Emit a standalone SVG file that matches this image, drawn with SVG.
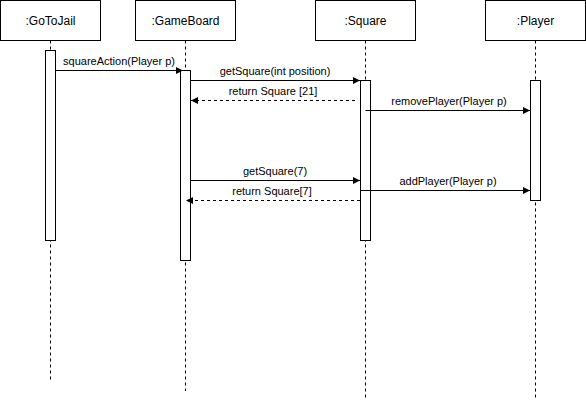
<svg xmlns="http://www.w3.org/2000/svg" width="586" height="401" viewBox="0 0 586 401">
<defs>
<marker id="ah" markerWidth="8" markerHeight="8" refX="7" refY="4" orient="auto" markerUnits="userSpaceOnUse">
<path d="M0,0.5 L7,4 L0,7.5 Z" fill="#000"/>
</marker>
<style>
.box{fill:#fff;stroke:#000;stroke-width:1}
.life{stroke:#000;stroke-width:1;stroke-dasharray:3 3;fill:none}
.act{fill:#fff;stroke:#000;stroke-width:1}
.msg{stroke:#000;stroke-width:1;fill:none;marker-end:url(#ah)}
.ret{stroke:#000;stroke-width:1;fill:none;stroke-dasharray:3 3;marker-end:url(#ah)}
.t{font-family:"Liberation Sans",Arial,sans-serif;font-size:12px;fill:#000;text-anchor:middle}
.l{font-family:"Liberation Sans",Arial,sans-serif;font-size:11px;fill:#000;text-anchor:middle}
</style>
</defs>
<rect width="586" height="401" fill="#fff"/>
<g id="gotojail">
<rect class="box" x="0.5" y="0.5" width="100" height="40"/>
<text class="t" x="50.5" y="24.5">:GoToJail</text>
<line class="life" x1="50.5" y1="40.5" x2="50.5" y2="380"/>
<rect class="act" x="45.5" y="50.5" width="10" height="190"/>
</g>
<g id="gameboard">
<rect class="box" x="135.5" y="0.5" width="100" height="40"/>
<text class="t" x="185.5" y="24.5">:GameBoard</text>
<line class="life" x1="185.5" y1="40.5" x2="185.5" y2="391"/>
<rect class="act" x="180.5" y="70.5" width="10" height="190"/>
</g>
<g id="square">
<rect class="box" x="315.5" y="0.5" width="100" height="40"/>
<text class="t" x="365.5" y="24.5">:Square</text>
<line class="life" x1="365.5" y1="40.5" x2="365.5" y2="398"/>
<rect class="act" x="360.5" y="80.5" width="10" height="160"/>
</g>
<g id="player">
<rect class="box" x="485.5" y="0.5" width="100" height="40"/>
<text class="t" x="535.5" y="24.5">:Player</text>
<line class="life" x1="535.5" y1="40.5" x2="535.5" y2="398"/>
<rect class="act" x="530.5" y="80.5" width="10" height="120"/>
</g>
<g id="connectors">
<line class="msg" x1="55.5" y1="70.5" x2="183" y2="70.5"/>
<text class="l" x="119" y="65">squareAction(Player p)</text>
<line class="msg" x1="190.5" y1="80.5" x2="360" y2="80.5"/>
<text class="l" x="275" y="75">getSquare(int position)</text>
<line class="ret" x1="355" y1="100.5" x2="191" y2="100.5"/>
<text class="l" x="273" y="95">return Square [21]</text>
<line class="msg" x1="365.5" y1="110.5" x2="530" y2="110.5"/>
<text class="l" x="449" y="105">removePlayer(Player p)</text>
<line class="msg" x1="190.5" y1="180.5" x2="360" y2="180.5"/>
<text class="l" x="275" y="175">getSquare(7)</text>
<line class="msg" x1="360.5" y1="190.5" x2="530" y2="190.5"/>
<text class="l" x="448" y="185">addPlayer(Player p)</text>
<line class="ret" x1="360" y1="200.5" x2="186" y2="200.5"/>
<text class="l" x="272" y="195">return Square[7]</text>
</g>
</svg>
